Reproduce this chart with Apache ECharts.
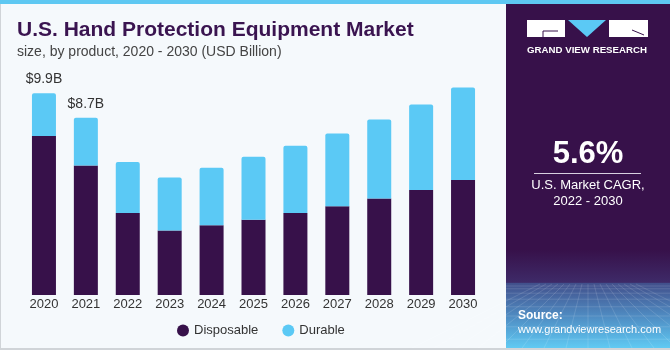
<!DOCTYPE html>
<html>
<head>
<meta charset="utf-8">
<script src="https://cdn.jsdelivr.net/npm/echarts@6/dist/echarts.min.js"></script>
<style>
    html, body { margin: 0; padding: 0; background: #f5f9fc; }
    #main { width: 670px; height: 350px; }
</style>
</head>
<body>
<div id="main"></div>
<script>
// chart data (USD Billion)
var years = ['2020', '2021', '2022', '2023', '2024', '2025', '2026', '2027', '2028', '2029', '2030'];
var disposable = [7.8, 6.35, 4.02, 3.17, 3.42, 3.69, 4.02, 4.35, 4.74, 5.15, 5.64];
var durable = [2.1, 2.35, 2.51, 2.6, 2.82, 3.09, 3.3, 3.58, 3.87, 4.2, 4.54];
var topLabels = ['$9.9B', '$8.7B'];

var purple = '#37114a';
var blue = '#5bc9f5';

var chart = echarts.init(document.getElementById('main'));

var durableData = durable.map(function (v, i) {
    if (topLabels[i]) {
        return {
            value: v,
            label: {
                show: true,
                position: 'top',
                distance: 7,
                formatter: topLabels[i],
                color: '#333',
                fontSize: 14,
                fontFamily: 'Liberation Sans'
            }
        };
    }
    return v;
});

// faint grid texture in the bottom of the side panel
var texture = [];
for (var k = 0; k < 9; k++) {
    var yy = 286 + k * k * 0.8 + k * 2;
    texture.push({ type: 'line', shape: { x1: 506, y1: yy, x2: 670, y2: yy }, style: { stroke: 'rgba(255,255,255,0.13)', lineWidth: 1 }, z: 3 });
}
for (var j = -8; j <= 8; j++) {
    texture.push({ type: 'line', shape: { x1: 588 + j * 6, y1: 284, x2: 588 + j * 22, y2: 348 }, style: { stroke: 'rgba(255,255,255,0.13)', lineWidth: 1 }, z: 3 });
}

var option = {
    backgroundColor: '#f5f9fc',
    animation: false,
    title: {
        text: 'U.S. Hand Protection Equipment Market',
        subtext: 'size, by product, 2020 - 2030 (USD Billion)',
        left: 12,
        top: 15,
        itemGap: 4,
        textStyle: {
            color: '#3a1450',
            fontSize: 21,
            fontWeight: 'bold',
            fontFamily: 'Liberation Sans'
        },
        subtextStyle: {
            color: '#444',
            fontSize: 14,
            fontFamily: 'Liberation Sans'
        }
    },
    legend: {
        left: 172,
        top: 319,
        icon: 'circle',
        itemWidth: 12,
        itemHeight: 12,
        itemGap: 24,
        textStyle: { color: '#333', fontSize: 13, fontFamily: 'Liberation Sans' },
        data: ['Disposable', 'Durable']
    },
    grid: { left: 23, right: 186, top: 81, bottom: 55 },
    xAxis: {
        type: 'category',
        data: years,
        axisLine: { show: false },
        axisTick: { show: false },
        axisLabel: { color: '#333', fontSize: 13, margin: 3, fontFamily: 'Liberation Sans' }
    },
    yAxis: {
        type: 'value',
        min: 0,
        max: 10.5,
        show: false,
        splitLine: { show: false }
    },
    series: [
        {
            name: 'Disposable',
            type: 'bar',
            stack: 'total',
            barWidth: 24,
            data: disposable,
            itemStyle: { color: purple }
        },
        {
            name: 'Durable',
            type: 'bar',
            stack: 'total',
            barWidth: 24,
            data: durableData,
            itemStyle: { color: blue, borderRadius: [2, 2, 0, 0] }
        }
    ],
    graphic: [
        // top stripe
        { type: 'rect', left: 0, top: 0, shape: { width: 670, height: 4 }, style: { fill: '#5ec8f2' }, z: 10 },
        // borders
        { type: 'rect', left: 0, top: 4, shape: { width: 1, height: 346 }, style: { fill: '#d0d4d8' }, z: 10 },
        { type: 'rect', left: 0, top: 348, shape: { width: 670, height: 2 }, style: { fill: '#d0d4d8' }, z: 10 },
        // right panel
        { type: 'rect', left: 506, top: 4, shape: { width: 164, height: 344 }, style: { fill: purple }, z: 1 },
        {
            type: 'rect', left: 506, top: 250, shape: { width: 164, height: 98 }, z: 2,
            style: {
                fill: new echarts.graphic.LinearGradient(0, 0, 0, 1, [
                    { offset: 0, color: '#37114a' },
                    { offset: 0.33, color: '#3e2a68' },
                    { offset: 0.34, color: '#42508c' },
                    { offset: 0.7, color: '#5090c6' },
                    { offset: 1, color: '#60caf3' }
                ])
            }
        }
    ].concat(texture).concat([
        // logo
        { type: 'rect', left: 527, top: 20, shape: { width: 38, height: 17 }, style: { fill: '#ffffff' }, z: 5 },
        { type: 'polyline', shape: { points: [[558, 31], [543, 31], [543, 37]] }, style: { stroke: purple, lineWidth: 1, fill: null }, z: 6 },
        { type: 'polygon', shape: { points: [[568, 20], [606, 20], [587, 37]] }, style: { fill: blue }, z: 5 },
        { type: 'rect', left: 609, top: 20, shape: { width: 39, height: 17 }, style: { fill: '#ffffff' }, z: 5 },
        { type: 'line', shape: { x1: 632, y1: 30, x2: 644, y2: 35 }, style: { stroke: purple, lineWidth: 1 }, z: 6 },
        {
            type: 'text', left: 527, top: 45, z: 5,
            style: { text: 'GRAND VIEW RESEARCH', fill: '#ffffff', font: 'bold 9.7px Liberation Sans', textAlign: 'left' }
        },
        // CAGR
        {
            type: 'text', x: 588, y: 154, z: 5,
            style: { text: '5.6%', fill: '#ffffff', font: 'bold 31px Liberation Sans', textAlign: 'center', textVerticalAlign: 'middle' }
        },
        { type: 'rect', left: 534, top: 173, shape: { width: 107, height: 1 }, style: { fill: '#d8d0e0' }, z: 5 },
        {
            type: 'text', x: 588, y: 185, z: 5,
            style: { text: 'U.S. Market CAGR,', fill: '#ffffff', font: '13px Liberation Sans', textAlign: 'center', textVerticalAlign: 'middle' }
        },
        {
            type: 'text', x: 588, y: 201, z: 5,
            style: { text: '2022 - 2030', fill: '#ffffff', font: '13px Liberation Sans', textAlign: 'center', textVerticalAlign: 'middle' }
        },
        // source
        {
            type: 'text', x: 518, y: 316, z: 5,
            style: { text: 'Source:', fill: '#ffffff', font: 'bold 12px Liberation Sans', textVerticalAlign: 'middle' }
        },
        {
            type: 'text', x: 518, y: 330, z: 5,
            style: { text: 'www.grandviewresearch.com', fill: '#ffffff', font: '11px Liberation Sans', textVerticalAlign: 'middle' }
        }
    ])
};

chart.setOption(option);
window.addEventListener('resize', function () {
    chart.resize();
});
</script>
</body>
</html>
